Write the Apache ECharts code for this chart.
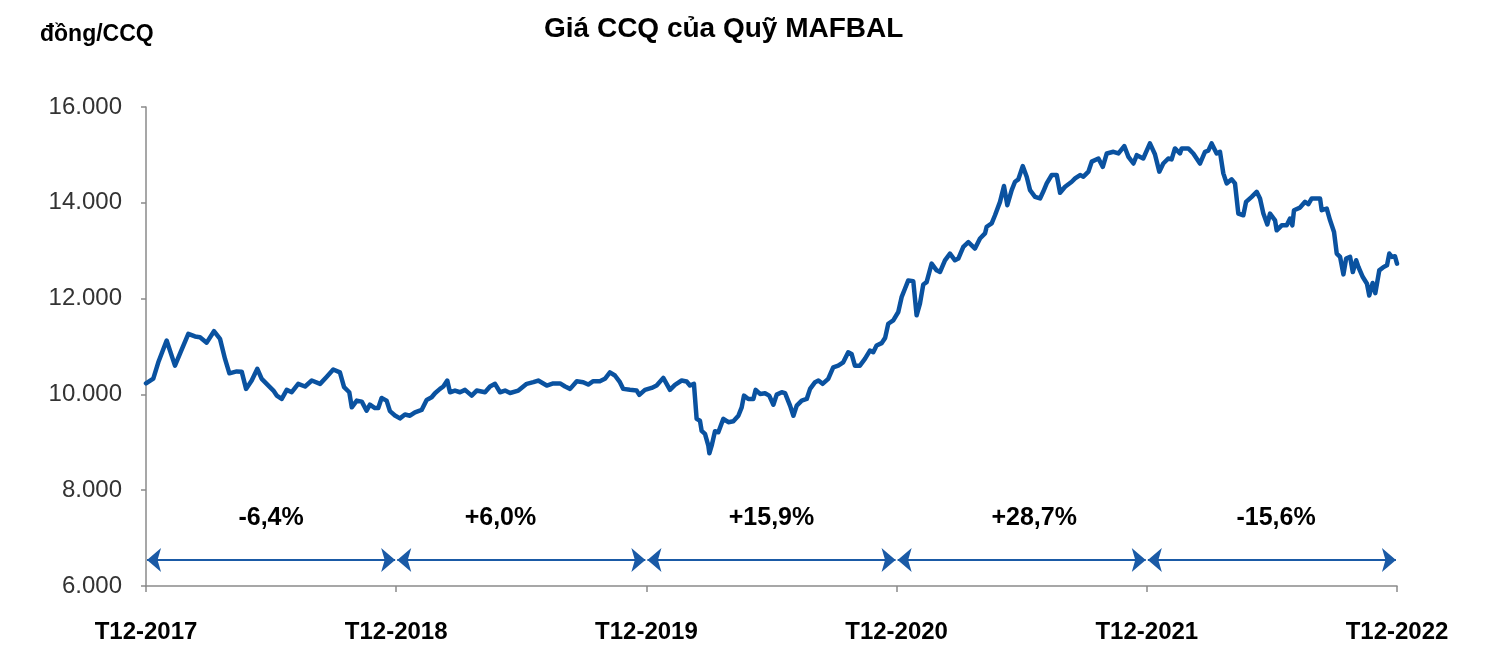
<!DOCTYPE html>
<html>
<head>
<meta charset="utf-8">
<script src="https://cdn.jsdelivr.net/npm/echarts@6/dist/echarts.min.js"></script>
<style>
html,body{margin:0;padding:0;background:#fff;}
#chart{width:1486px;height:647px;}
</style>
</head>
<body>
<div id="chart"></div>
<script>
// tháng tính từ T12-2017 (0 = T12-2017, 60 = T12-2022)
var months = [
	0, 0.35, 0.59, 0.99, 1.39, 1.63, 2.03, 2.35, 2.59, 2.91, 3.26, 3.55, 3.79, 4.00, 4.35, 4.59, 4.80, 5.07, 5.34, 5.55,
	5.87, 6.11, 6.27, 6.51, 6.75, 6.99, 7.30, 7.63, 7.95, 8.35, 8.67, 8.98, 9.30, 9.50, 9.75, 9.87, 10.11, 10.35, 10.58, 10.74,
	10.98, 11.14, 11.30, 11.54, 11.70, 11.94, 12.18, 12.42, 12.66, 12.90, 13.22, 13.46, 13.70, 13.86, 14.10, 14.26, 14.45, 14.58, 14.82, 15.06,
	15.30, 15.62, 15.86, 16.26, 16.50, 16.74, 16.98, 17.22, 17.46, 17.86, 18.26, 18.58, 18.81, 19.22, 19.53, 19.86, 20.10, 20.34, 20.66, 20.97,
	21.21, 21.45, 21.77, 22.01, 22.25, 22.49, 22.73, 22.89, 23.21, 23.53, 23.66, 23.93, 24.25, 24.49, 24.81, 25.13, 25.37, 25.69, 25.93, 26.09,
	26.28, 26.41, 26.57, 26.65, 26.81, 26.97, 27.02, 27.13, 27.29, 27.45, 27.69, 27.93, 28.17, 28.41, 28.57, 28.68, 28.89, 29.13, 29.24, 29.45,
	29.69, 29.89, 30.09, 30.25, 30.49, 30.65, 30.89, 31.05, 31.21, 31.45, 31.69, 31.85, 32.09, 32.25, 32.45, 32.72, 32.96, 33.20, 33.44, 33.68,
	33.84, 34.00, 34.24, 34.48, 34.72, 34.88, 35.04, 35.28, 35.45, 35.60, 35.84, 36.08, 36.24, 36.40, 36.56, 36.80, 36.96, 37.12, 37.28, 37.44,
	37.68, 37.92, 38.08, 38.32, 38.56, 38.80, 38.96, 39.20, 39.44, 39.76, 40.00, 40.24, 40.32, 40.56, 40.72, 40.96, 41.15, 41.31, 41.52, 41.68,
	41.84, 42.05, 42.24, 42.40, 42.64, 42.88, 43.03, 43.20, 43.44, 43.68, 43.84, 44.08, 44.40, 44.56, 44.80, 44.96, 45.20, 45.36, 45.68, 45.89,
	46.08, 46.40, 46.64, 46.92, 47.12, 47.36, 47.52, 47.83, 48.15, 48.39, 48.60, 48.79, 49.03, 49.19, 49.35, 49.59, 49.67, 49.99, 50.23, 50.55,
	50.79, 50.95, 51.11, 51.35, 51.51, 51.67, 51.83, 52.07, 52.23, 52.39, 52.63, 52.76, 53.03, 53.27, 53.43, 53.59, 53.78, 53.91, 54.15, 54.23,
	54.47, 54.71, 54.87, 54.98, 55.06, 55.35, 55.59, 55.75, 55.91, 56.31, 56.39, 56.63, 56.79, 56.98, 57.11, 57.27, 57.43, 57.56, 57.75, 57.88,
	58.04, 58.15, 58.36, 58.56, 58.67, 58.83, 58.96, 59.15, 59.36, 59.52, 59.63, 59.76, 59.90, 60.00
];
// giá CCQ (đồng/CCQ)
var prices = [
	10230, 10330, 10670, 11125, 10600, 10850, 11265, 11210, 11195, 11080, 11320, 11160, 10740, 10440, 10480, 10475, 10115, 10290, 10535, 10325,
	10185, 10080, 9975, 9905, 10095, 10045, 10220, 10165, 10290, 10220, 10370, 10520, 10460, 10150, 10045, 9730, 9870, 9850, 9660, 9785,
	9715, 9715, 9925, 9870, 9650, 9560, 9500, 9580, 9555, 9625, 9675, 9885, 9940, 10025, 10115, 10165, 10290, 10045, 10080, 10045,
	10095, 9975, 10080, 10045, 10165, 10220, 10045, 10080, 10030, 10080, 10220, 10255, 10290, 10185, 10230, 10230, 10165, 10115, 10275, 10255,
	10205, 10275, 10275, 10325, 10460, 10395, 10255, 10115, 10095, 10080, 9990, 10095, 10135, 10185, 10345, 10095, 10200, 10290, 10270, 10185,
	10220, 9490, 9450, 9240, 9175, 8930, 8770, 8930, 9230, 9210, 9490, 9420, 9440, 9555, 9730, 9975, 9905, 9905, 10095, 10010,
	10025, 9975, 9785, 9995, 10045, 10025, 9765, 9555, 9765, 9870, 9905, 10115, 10255, 10290, 10220, 10325, 10565, 10600, 10670, 10880,
	10845, 10600, 10600, 10740, 10915, 10880, 11020, 11070, 11180, 11475, 11545, 11720, 12030, 12205, 12380, 12365, 11650, 11895, 12295, 12345,
	12730, 12590, 12555, 12800, 12940, 12800, 12835, 13080, 13180, 13045, 13255, 13360, 13500, 13570, 13740, 14020, 14350, 13950, 14265, 14440,
	14490, 14765, 14545, 14265, 14125, 14090, 14230, 14405, 14580, 14580, 14210, 14335, 14440, 14510, 14580, 14545, 14650, 14860, 14925, 14750,
	15030, 15065, 15030, 15185, 14960, 14820, 14995, 14925, 15240, 15015, 14650, 14820, 14925, 14905, 15135, 15030, 15135, 15135, 15030, 14820,
	15065, 15090, 15240, 15030, 15065, 14615, 14405, 14490, 14405, 13775, 13740, 14020, 14125, 14230, 14090, 13775, 13550, 13775, 13635, 13425,
	13530, 13530, 13670, 13530, 13845, 13900, 14020, 13970, 14090, 14090, 13845, 13880, 13635, 13390, 12940, 12870, 12505, 12835, 12870, 12555,
	12800, 12660, 12450, 12310, 12065, 12325, 12115, 12590, 12660, 12695, 12940, 12870, 12885, 12730
];
// mốc trục hoành
var yearLabels = ["T12-2017", "T12-2018", "T12-2019", "T12-2020", "T12-2021", "T12-2022"];
// thay đổi theo từng năm
var changes = ["-6,4%", "+6,0%", "+15,9%", "+28,7%", "-15,6%"];
var changeAt = [6, 17, 30, 42.6, 54.2];

var FONT = "Liberation Sans";
var lineData = months.map(function(m, i){
	return [m, prices[i]];
});

// mũi tên hai đầu cho từng năm
var arrowData = changes.map(function(c, i){
	return [
		{coord: [i * 12 + 0.05, 6545]},
		{coord: [(i + 1) * 12 - 0.05, 6545]}
	];
});

var myChart = echarts.init(document.getElementById("chart"));
var option = {
	animation: false,
	title: [
		{
			text: "Giá CCQ của Quỹ MAFBAL",
			left: 539,
			top: 10,
			textStyle: {fontFamily: FONT, fontSize: 28, fontWeight: "bold", color: "#000"}
		},
		{
			text: "đồng/CCQ",
			left: 35,
			top: 18,
			textStyle: {fontFamily: FONT, fontSize: 23, fontWeight: "bold", color: "#000"}
		}
	],
	grid: {left: 146, right: 89, top: 107, bottom: 61},
	xAxis: {
		type: "value",
		min: 0,
		max: 60,
		interval: 12,
		axisLine: {lineStyle: {color: "#8a8a8a", width: 1.5}},
		axisTick: {length: 6, lineStyle: {color: "#8a8a8a", width: 1.5}},
		splitLine: {show: false},
		axisLabel: {
			margin: 34,
			fontFamily: FONT,
			fontSize: 24,
			fontWeight: "bold",
			color: "#000",
			formatter: function(v){ return yearLabels[Math.round(v / 12)]; }
		}
	},
	yAxis: {
		type: "value",
		min: 6000,
		max: 16000,
		interval: 2000,
		axisLine: {show: true, lineStyle: {color: "#8a8a8a", width: 1.5}},
		axisTick: {show: true, length: 5, lineStyle: {color: "#8a8a8a", width: 1.5}},
		splitLine: {show: false},
		axisLabel: {
			margin: 24,
			fontFamily: FONT,
			fontSize: 24,
			color: "#333",
			formatter: function(v){ return String(v).replace(/\B(?=(\d{3})+(?!\d))/g, "."); }
		}
	},
	series: [
		{
			name: "Giá CCQ",
			type: "line",
			data: lineData,
			symbol: "none",
			lineStyle: {color: "#0a52a0", width: 4.5, join: "round", cap: "round"},
			z: 3
		},
		{
			name: "arrows",
			type: "line",
			data: [],
			markLine: {
				silent: true,
				symbol: ["arrow", "arrow"],
				symbolSize: [18, 14],
				lineStyle: {color: "#1a5aa6", width: 2, type: "solid"},
				label: {show: false},
				data: arrowData
			}
		},
		{
			name: "changes",
			type: "scatter",
			symbolSize: 1,
			silent: true,
			itemStyle: {opacity: 1, color: "transparent"},
			data: changeAt.map(function(m){ return [m, 7420]; }),
			label: {
				show: true,
				position: "inside",
				fontFamily: FONT,
				fontSize: 25,
				fontWeight: "bold",
				color: "#000",
				opacity: 1,
				formatter: function(p){ return changes[p.dataIndex]; }
			}
		}
	]
};
myChart.setOption(option);
</script>
</body>
</html>
